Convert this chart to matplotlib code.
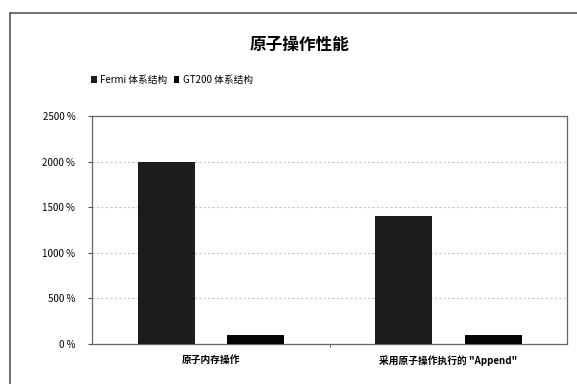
import numpy as np
import matplotlib.pyplot as plt
from matplotlib.patches import Rectangle

plt.rcParams['font.family'] = ['Noto Sans CJK SC', 'DejaVu Sans']

categories = ["原子内存操作", "采用原子操作执行的 \"Append\""]
series_names = ["Fermi 体系结构", "GT200 体系结构"]
fermi = [2000, 1400]
gt200 = [100, 100]
yticks = [0, 500, 1000, 1500, 2000, 2500]

fig = plt.figure(figsize=(5.77, 3.84), dpi=100)
ax = fig.add_axes([92 / 577, 1 - 344 / 384, 475 / 577, 228 / 384])

x = np.arange(len(categories))
w = 0.24
ax.bar(x - 0.187, fermi, w, color='#1c1c1a', label=series_names[0], zorder=3)
ax.bar(x + 0.19, gt200, w, color='#050505', label=series_names[1], zorder=3)

ax.set_xlim(-0.5, 1.5)
ax.set_ylim(0, 2500)
ax.set_yticks(yticks)
ax.set_yticklabels([f"{v} %" for v in yticks], fontsize=7)
ax.set_xticks(x)
ax.set_xticklabels(categories, fontsize=7, fontweight='bold')
ax.tick_params(axis='x', length=0, pad=8)
ax.tick_params(axis='y', length=3, width=0.8, color='#555555', pad=9)
ax.set_xticks([0.5], minor=True)
ax.tick_params(axis='x', which='minor', length=2, color='#555555')
ax.yaxis.grid(True, linestyle=(0, (2, 2)), color='#c8c8c8', linewidth=0.8, zorder=0)
for s in ax.spines.values():
    s.set_color('#666666')
    s.set_linewidth(0.9)

fig.text(300 / 577, 1 - 45 / 384, "原子操作性能", ha='center', va='center',
         fontsize=12, fontweight='bold')

leg = fig.legend(loc='center left', bbox_to_anchor=(82 / 577, 1 - 80 / 384), ncol=2,
                 frameon=False, fontsize=7, handlelength=0.6, handleheight=0.6,
                 handletextpad=0.4, columnspacing=0.6)

fig.patches.append(Rectangle((10 / 577, -0.05), 1.0, 1 - 13 / 384 + 0.05,
                             transform=fig.transFigure, fill=False,
                             edgecolor='#555555', linewidth=1.2))

fig.savefig("out.png", dpi=100)
